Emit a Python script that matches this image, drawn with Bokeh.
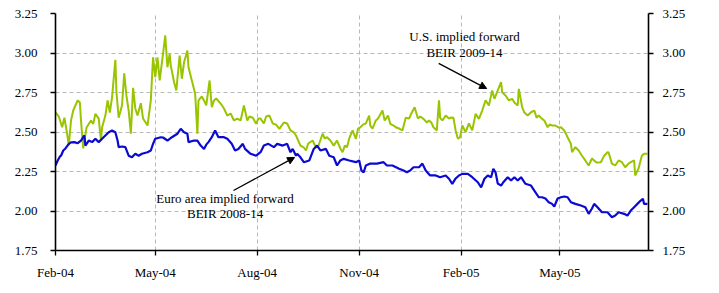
from datetime import datetime, timedelta
from bokeh.plotting import figure
from bokeh.models import (Range1d, LinearAxis, FixedTicker, DatetimeTickFormatter,
                          NumeralTickFormatter, Label, Arrow, NormalHead, ColumnDataSource)
from bokeh.embed import file_html
from bokeh.resources import INLINE

BASE = datetime(2004, 2, 1)
EPOCH = datetime(1970, 1, 1)

# ---- data: days since 1 Feb 2004, implied forward BEIR (%) ----
us_days = [
    0, 3, 6, 8, 10, 12, 14, 16, 20, 22,
    23, 25, 28, 32, 34, 36, 39, 41, 42, 45,
    47, 49, 51, 54, 55, 57, 60, 62, 64, 66,
    68, 70, 72, 74, 77, 79, 83, 86, 88, 90,
    92, 94, 97, 99, 101, 103, 104, 107, 109, 112,
    114, 116, 119, 120, 123, 126, 128, 129, 132, 134,
    136, 139, 141, 143, 145, 149, 152, 155, 158, 161,
    164, 167, 170, 173, 175, 178, 181, 183, 185, 188,
    190, 193, 196, 199, 202, 204, 206, 209, 212, 215,
    217, 219, 221, 224, 226, 228, 232, 235, 237, 241,
    243, 245, 248, 251, 254, 257, 259, 261, 263, 265,
    268, 271, 273, 275, 278, 280, 283, 284, 286, 289,
    291, 295, 297, 300, 302, 305, 307, 310, 313, 316,
    319, 321, 324, 327, 329, 332, 335, 337, 339, 341,
    344, 346, 347, 349, 352, 355, 357, 359, 361, 363,
    365, 367, 370, 373, 376, 379, 382, 385, 388, 391,
    394, 396, 399, 402, 403, 406, 409, 412, 414, 417,
    418, 421, 423, 426, 429, 432, 434, 436, 439, 441,
    444, 446, 448, 451, 454, 456, 459, 462, 465, 466,
    469, 472, 475, 478, 481, 484, 486, 488, 492, 495,
    498, 499, 502, 505, 508, 511, 514, 517, 519, 522,
    523, 526, 529, 531, 534,
]
us_beir = [
    2.625, 2.598, 2.530, 2.590, 2.510, 2.415, 2.573, 2.636, 2.700, 2.687,
    2.573, 2.396, 2.528, 2.573, 2.550, 2.615, 2.585, 2.446, 2.528, 2.604,
    2.700, 2.623, 2.718, 2.957, 2.750, 2.590, 2.668, 2.872, 2.730, 2.636,
    2.490, 2.780, 2.649, 2.604, 2.682, 2.585, 2.541, 2.700, 2.973, 2.847,
    2.973, 2.826, 2.995, 3.111, 2.910, 2.995, 2.920, 2.815, 2.763, 2.984,
    2.837, 2.942, 3.016, 2.910, 2.826, 2.742, 2.489, 2.700, 2.725, 2.700,
    2.668, 2.826, 2.657, 2.700, 2.712, 2.680, 2.649, 2.604, 2.617, 2.573,
    2.585, 2.573, 2.668, 2.573, 2.598, 2.590, 2.552, 2.585, 2.585, 2.554,
    2.598, 2.604, 2.554, 2.547, 2.520, 2.540, 2.560, 2.554, 2.510, 2.497,
    2.478, 2.446, 2.414, 2.402, 2.383, 2.427, 2.446, 2.402, 2.408, 2.489,
    2.459, 2.467, 2.446, 2.414, 2.446, 2.396, 2.372, 2.414, 2.404, 2.459,
    2.510, 2.457, 2.522, 2.530, 2.550, 2.554, 2.604, 2.540, 2.522, 2.573,
    2.585, 2.636, 2.573, 2.604, 2.552, 2.541, 2.530, 2.522, 2.510, 2.590,
    2.585, 2.617, 2.657, 2.585, 2.598, 2.583, 2.560, 2.573, 2.560, 2.530,
    2.510, 2.700, 2.590, 2.573, 2.604, 2.585, 2.592, 2.590, 2.510, 2.457,
    2.467, 2.541, 2.499, 2.554, 2.510, 2.615, 2.583, 2.636, 2.700, 2.668,
    2.763, 2.710, 2.763, 2.815, 2.752, 2.731, 2.700, 2.710, 2.687, 2.668,
    2.773, 2.657, 2.623, 2.604, 2.625, 2.636, 2.590, 2.604, 2.583, 2.573,
    2.530, 2.548, 2.541, 2.541, 2.528, 2.530, 2.510, 2.467, 2.425, 2.372,
    2.404, 2.383, 2.350, 2.320, 2.288, 2.332, 2.320, 2.307, 2.309, 2.350,
    2.372, 2.370, 2.300, 2.288, 2.320, 2.309, 2.277, 2.300, 2.309, 2.320,
    2.225, 2.269, 2.350, 2.362, 2.362,
]
euro_days = [
    0, 2, 4, 5, 7, 9, 12, 14, 17, 20,
    23, 26, 27, 30, 33, 36, 39, 42, 45, 48,
    51, 54, 56, 57, 60, 63, 66, 69, 72, 75,
    78, 83, 86, 88, 90, 95, 97, 101, 105, 110,
    113, 116, 119, 120, 125, 128, 131, 134, 136, 138,
    141, 144, 147, 152, 155, 159, 162, 165, 169, 171,
    176, 181, 185, 188, 192, 197, 200, 205, 209, 212,
    214, 217, 218, 221, 224, 229, 233, 236, 239, 244,
    247, 251, 254, 257, 260, 265, 271, 274, 276, 278,
    280, 284, 290, 296, 299, 304, 310, 314, 317, 320,
    323, 328, 331, 334, 338, 343, 347, 352, 355, 358,
    361, 364, 367, 372, 376, 381, 384, 387, 390, 393,
    395, 397, 399, 402, 404, 408, 411, 414, 417, 420,
    424, 429, 432, 436, 439, 442, 445, 448, 450, 453,
    456, 459, 462, 465, 469, 474, 478, 481, 484, 486,
    489, 493, 498, 502, 505, 508, 513, 516, 519, 522,
    525, 528, 530, 531, 534,
]
euro_beir = [
    2.288, 2.320, 2.345, 2.350, 2.383, 2.396, 2.425, 2.434, 2.436, 2.429,
    2.446, 2.478, 2.414, 2.446, 2.436, 2.457, 2.436, 2.457, 2.478, 2.499,
    2.510, 2.499, 2.446, 2.404, 2.408, 2.404, 2.350, 2.340, 2.362, 2.350,
    2.362, 2.372, 2.383, 2.425, 2.457, 2.467, 2.465, 2.446, 2.467, 2.489,
    2.520, 2.499, 2.489, 2.436, 2.446, 2.446, 2.414, 2.393, 2.420, 2.436,
    2.467, 2.510, 2.467, 2.467, 2.457, 2.425, 2.383, 2.393, 2.425, 2.393,
    2.362, 2.350, 2.372, 2.414, 2.425, 2.404, 2.425, 2.414, 2.425, 2.372,
    2.393, 2.350, 2.362, 2.340, 2.309, 2.320, 2.393, 2.414, 2.383, 2.393,
    2.350, 2.340, 2.288, 2.320, 2.330, 2.320, 2.309, 2.320, 2.256, 2.245,
    2.288, 2.300, 2.300, 2.309, 2.288, 2.288, 2.267, 2.256, 2.245, 2.256,
    2.277, 2.277, 2.300, 2.256, 2.225, 2.225, 2.214, 2.225, 2.204, 2.172,
    2.206, 2.225, 2.235, 2.235, 2.214, 2.182, 2.150, 2.204, 2.225, 2.214,
    2.267, 2.245, 2.174, 2.161, 2.182, 2.214, 2.193, 2.214, 2.193, 2.214,
    2.172, 2.161, 2.129, 2.087, 2.087, 2.079, 2.056, 2.045, 2.028, 2.079,
    2.087, 2.092, 2.087, 2.056, 2.045, 2.035, 2.024, 1.982, 2.016, 2.045,
    2.024, 1.992, 1.992, 1.961, 1.971, 1.992, 1.982, 1.971, 2.003, 2.024,
    2.045, 2.066, 2.077, 2.045, 2.045,
]
x_tick_dates = ["2004-02-01", "2004-05-01", "2004-08-01", "2004-11-01", "2005-02-01", "2005-05-01"]
y_ticks = [1.75, 2.00, 2.25, 2.50, 2.75, 3.00, 3.25]
us_label = ["U.S. implied forward", "BEIR 2009-14"]
euro_label = ["Euro area implied forward", "BEIR 2008-14"]


def ms(dt):
    return (dt - EPOCH).total_seconds() * 1000.0


def day_ms(d):
    return ms(BASE + timedelta(days=d))


FONT = "Liberation Serif"
GREEN = "#99c400"
BLUE = "#0a0ad2"

us_src = ColumnDataSource(dict(x=[BASE + timedelta(days=d) for d in us_days], y=us_beir))
eu_src = ColumnDataSource(dict(x=[BASE + timedelta(days=d) for d in euro_days], y=euro_beir))

p = figure(width=719, height=293, x_axis_type="datetime", output_backend="svg",
           toolbar_location=None,
           x_range=Range1d(BASE, BASE + timedelta(days=535)),
           y_range=Range1d(1.75, 3.25),
           min_border_left=55, min_border_right=71, min_border_top=13, min_border_bottom=43)
p.outline_line_color = None
p.background_fill_color = "white"
p.border_fill_color = "white"

xt = FixedTicker(ticks=[ms(datetime.strptime(s, "%Y-%m-%d")) for s in x_tick_dates])
yt = FixedTicker(ticks=y_ticks)

fmt = "%b-%y"
p.xaxis.ticker = xt
p.xaxis.formatter = DatetimeTickFormatter(months=fmt, days=fmt, years=fmt, hours=fmt,
                                          minutes=fmt, seconds=fmt, milliseconds=fmt,
                                          microseconds=fmt, minsec=fmt, hourmin=fmt)
p.yaxis.ticker = yt
p.yaxis.formatter = NumeralTickFormatter(format="0.00")

right = LinearAxis(ticker=yt, formatter=NumeralTickFormatter(format="0.00"))
p.add_layout(right, "right")

for ax in p.axis:
    ax.axis_line_color = "black"
    ax.axis_line_width = 1.6
    ax.major_tick_line_color = "black"
    ax.major_tick_line_width = 1.3
    ax.major_tick_in = 0
    ax.major_tick_out = 5
    ax.minor_tick_line_color = None
    ax.major_label_text_font = FONT
    ax.major_label_text_font_size = "13px"
    ax.major_label_text_color = "black"
p.xaxis.major_label_standoff = 9
p.yaxis[0].major_label_standoff = 13
right.major_label_standoff = 9

p.xgrid.ticker = xt
p.ygrid.ticker = yt
for g in (p.xgrid, p.ygrid):
    g.grid_line_color = "#b8b8b8"
    g.grid_line_dash = "4 3"
    g.grid_line_width = 1

p.line("x", "y", source=us_src, line_color=GREEN, line_width=2)
p.line("x", "y", source=eu_src, line_color=BLUE, line_width=2.2)

# annotations
for txt, yv in zip(us_label, [3.104, 3.003]):
    p.add_layout(Label(x=day_ms(369), y=yv, text=txt, text_align="center",
                       text_baseline="middle", text_font=FONT, text_font_size="13px",
                       text_color="black"))
for txt, yv in zip(euro_label, [2.079, 1.984]):
    p.add_layout(Label(x=day_ms(153), y=yv, text=txt, text_align="center",
                       text_baseline="middle", text_font=FONT, text_font_size="13px",
                       text_color="black"))

p.add_layout(Arrow(end=NormalHead(size=7, fill_color="black", line_color="black"),
                   x_start=day_ms(345.7), y_start=2.934, x_end=day_ms(389), y_end=2.775,
                   line_color="black", line_width=1.3))
p.add_layout(Arrow(end=NormalHead(size=7, fill_color="black", line_color="black"),
                   x_start=day_ms(160.6), y_start=2.130, x_end=day_ms(215.7), y_end=2.339,
                   line_color="black", line_width=1.3))

open("out.html", "w").write(file_html(p, INLINE))
